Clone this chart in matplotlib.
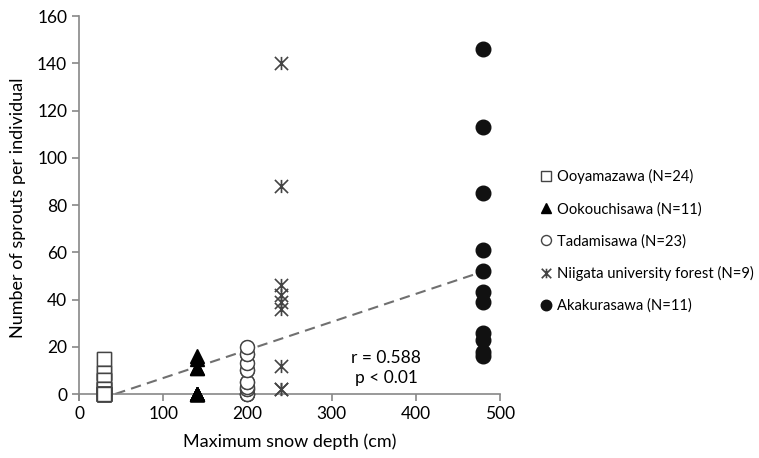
import matplotlib.pyplot as plt
import numpy as np
from matplotlib.path import Path

plt.rcParams['font.family'] = ['Lato', 'DejaVu Sans']

# snow depth (cm) of each site and sprouts per individual
ooyamazawa_x = 30
ooyamazawa_y = [0, 0, 0, 0, 0, 0, 0, 0, 0, 0, 0, 0, 2, 2, 2, 2, 6, 6, 6, 9, 9, 9, 15, 15]
ookouchisawa_x = 140
ookouchisawa_y = [0, 0, 0, 0, 0, 0, 0, 11, 11, 15, 16]
tadamisawa_x = 200
tadamisawa_y = [0, 0, 0, 0, 0, 2, 2, 2, 3, 3, 5, 5, 5, 10, 10, 10, 13, 13, 17, 17, 17, 20, 20]
niigata_x = 240
niigata_y = [2, 2, 12, 36, 39, 42, 46, 88, 140]
akakurasawa_x = 480
akakurasawa_y = [16, 18, 23, 26, 39, 43, 52, 61, 85, 113, 146]

labels = ['Ooyamazawa (N=24)', 'Ookouchisawa (N=11)', 'Tadamisawa (N=23)',
          'Niigata university forest (N=9)', 'Akakurasawa (N=11)']

# regression line
trend_slope = 0.1187
trend_intercept = -5.09
trend_x = [43, 480]
r_text = 'r = 0.588\np < 0.01'

star = Path([(0, -1), (0, 1), (-1, -1), (1, 1), (-1, 1), (1, -1)],
            [Path.MOVETO, Path.LINETO, Path.MOVETO, Path.LINETO, Path.MOVETO, Path.LINETO])

fig = plt.figure(figsize=(7.59, 4.58), dpi=100)
ax = fig.add_axes([0.1041, 0.1268, 0.5547, 0.838])

tx = np.array(trend_x)
ax.plot(tx, trend_slope * tx + trend_intercept, color='#707070', lw=1.5,
        dashes=(5, 3), zorder=2)

ax.plot([ooyamazawa_x] * len(ooyamazawa_y), ooyamazawa_y[::-1], 's', ms=9.5,
        mfc='white', mec='#444444', mew=1, ls='none', label=labels[0], zorder=3, clip_on=False)
ax.plot([ookouchisawa_x] * len(ookouchisawa_y), ookouchisawa_y, '^', ms=10,
        mfc='black', mec='black', ls='none', label=labels[1], zorder=3, clip_on=False)
ax.plot([tadamisawa_x] * len(tadamisawa_y), tadamisawa_y, 'o', ms=10,
        mfc='white', mec='#444444', mew=1, ls='none', label=labels[2], zorder=3, clip_on=False)
ax.plot([niigata_x] * len(niigata_y), niigata_y, marker=star, ms=9.5,
        color='#444444', mew=1.2, ls='none', label=labels[3], zorder=3, clip_on=False)
ax.plot([akakurasawa_x] * len(akakurasawa_y), akakurasawa_y, 'o', ms=10.5,
        mfc='#111111', mec='#111111', ls='none', label=labels[4], zorder=3, clip_on=False)

ax.text(365, 11, r_text, ha='center', va='center', fontsize=12.5, linespacing=1.25)

ax.set_xlim(0, 500)
ax.set_ylim(-2.5, 160)
ax.set_xticks(range(0, 501, 100))
ax.set_yticks(range(0, 161, 20))
ax.spines['top'].set_visible(False)
ax.spines['right'].set_visible(False)
ax.spines['bottom'].set_position(('data', 0))
for s in ['left', 'bottom']:
    ax.spines[s].set_color('#888888')
    ax.spines[s].set_linewidth(1.2)
ax.tick_params(colors='#888888', labelcolor='black', labelsize=12.5, length=5, width=1.2)
ax.set_xlabel('Maximum snow depth (cm)', fontsize=13, labelpad=8)
ax.set_ylabel('Number of sprouts per individual', fontsize=13, labelpad=8)

leg = ax.legend(loc='upper left', bbox_to_anchor=(528 / 759, 1 - 156 / 458),
                bbox_transform=fig.transFigure, frameon=False, fontsize=10.6,
                handlelength=0.65, handletextpad=0.45, labelspacing=1.2, markerscale=0.72)

fig.savefig('out.png', dpi=100)
